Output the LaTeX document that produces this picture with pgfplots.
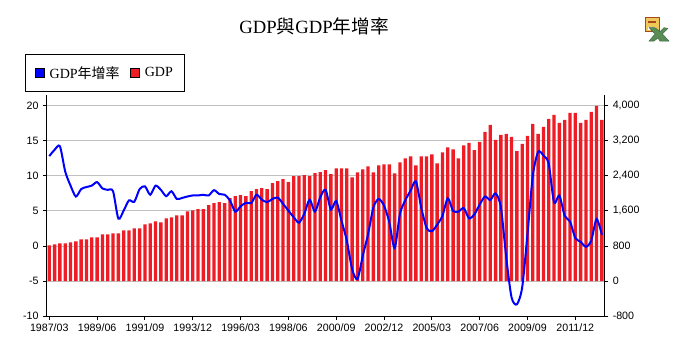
\documentclass[border=0pt]{standalone}
\usepackage{pgfplots}
\usepackage{pgfplotstable}
\usepackage{fontspec}
\pgfplotsset{compat=1.18}
\setmainfont{Liberation Serif}
\newfontfamily\labelsans{Liberation Sans}
\newfontfamily\cjk{Noto Sans CJK TC}
\definecolor{barred}{RGB}{238,28,36}
\definecolor{linblue}{RGB}{0,0,255}
\definecolor{gridgray}{RGB}{192,192,192}
\definecolor{iconbrown}{RGB}{170,70,30}
\definecolor{icongold}{RGB}{240,200,90}
\definecolor{icongreen}{RGB}{90,140,85}
\definecolor{icondark}{RGB}{50,100,60}
\pgfplotstableread{
i gdp rate
0 815 12.8
1 838 13.7
2 861 14.2
3 861 10.6
4 884 8.6
5 907 7.05
6 952 8.1
7 952 8.4
8 998 8.6
9 998 9.1
10 1067 8.2
11 1067 8.0
12 1090 7.8
13 1090 3.9
14 1158 5.05
15 1158 6.5
16 1204 6.3
17 1204 8.1
18 1295 8.5
19 1318 7.3
20 1364 8.6
21 1341 8.0
22 1432 7.1
23 1455 7.8
24 1501 6.7
25 1501 6.85
26 1592 7.05
27 1615 7.2
28 1638 7.2
29 1638 7.3
30 1730 7.2
31 1775 7.95
32 1798 7.4
33 1775 7.3
34 1890 6.5
35 1935 4.9
36 1958 5.65
37 1935 6.15
38 2050 6.1
39 2095 7.3
40 2118 6.6
41 2095 6.25
42 2232 6.7
43 2278 6.9
44 2324 6.0
45 2255 5.05
46 2392 4.1
47 2392 3.33
48 2415 4.6
49 2392 6.6
50 2461 4.9
51 2484 6.95
52 2530 8.0
53 2438 5.2
54 2568 6.4
55 2568 3.6
56 2568 0.75
57 2362 -3.3
58 2476 -4.7
59 2545 -1.4
60 2613 1.7
61 2476 5.5
62 2636 6.7
63 2659 5.75
64 2659 3.4
65 2453 -0.3
66 2705 4.6
67 2796 6.5
68 2842 7.9
69 2636 9.2
70 2842 5.5
71 2842 2.6
72 2888 2.1
73 2682 3.05
74 2933 4.3
75 3048 6.8
76 3002 5.0
77 2796 4.9
78 3093 5.4
79 3147 3.95
80 2987 4.5
81 3170 5.9
82 3398 7.05
83 3558 6.55
84 3215 7.5
85 3330 5.5
86 3352 -1.6
87 3284 -7.3
88 2964 -8.3
89 3124 -5.9
90 3307 1.7
91 3581 10.0
92 3352 13.4
93 3512 12.9
94 3695 11.7
95 3787 6.2
96 3604 7.2
97 3672 4.3
98 3832 3.5
99 3832 1.15
100 3604 0.6
101 3672 -0.1
102 3855 0.75
103 3992 3.85
104 3672 1.6
}\data
\pgfplotsset{common/.style={
  scale only axis, width=417.98pt, height=165.98pt,
  at={(35.25pt,29.775pt)}, anchor=south west,
  xmin=-0.43, xmax=104.46,
  tick align=outside, major tick length=2.8pt,
  tick style={black,line width=0.75pt},
  axis line style={black,line width=0.75pt},
  tick label style={font=\labelsans\fontsize{8}{9.6}\selectfont},
  /pgf/number format/assume math mode=true,
  /pgf/number format/1000 sep={,},
  clip=false,
}}
\begin{document}
\begin{tikzpicture}
\path[use as bounding box] (0,0) rectangle (511.5pt,267pt);
\begin{axis}[common,
  axis y line*=right, axis x line=none,
  ymin=-800, ymax=4240,
  ytick={-800,0,800,1600,2400,3200,4000},
  ymajorgrids, grid style={gridgray,line width=0.75pt},
]
\addplot[ybar,bar width=2.5pt,bar shift=0pt,fill=barred,draw=none] table[x=i,y=gdp] {\data};
\end{axis}
\begin{axis}[common,
  axis y line*=left, axis x line*=bottom,
  ymin=-10, ymax=21.5,
  ytick={-10,-5,0,5,10,15,20},
  xtick={0,9,18,27,36,45,54,63,72,81,90,99},
  xticklabels={1987/03,1989/06,1991/09,1993/12,1996/03,1998/06,2000/09,2002/12,2005/03,2007/06,2009/09,2011/12},
  xticklabel style={yshift=0.6pt},
  legend columns=2,
  legend style={at={(axis description cs:-0.0386,1.0136)},anchor=south west,
    draw=black,line width=0.75pt,fill=white,
    inner xsep=6.5pt,inner ysep=6.5pt,
    font=\fontsize{10.5}{12}\selectfont,
    /tikz/every even column/.append style={column sep=5.5pt}},
  legend cell align=left,
]
\addplot[color=linblue,line width=1.5pt,smooth,tension=0.45,
  legend image code/.code={\path[draw=none,fill=none] (0pt,0pt) rectangle (9pt,0.1pt);\draw[black,line width=0.6pt,fill=linblue] (0pt,-3.4pt) rectangle (7pt,3.4pt);}]
  table[x=i,y=rate] {\data};
\addlegendimage{legend image code/.code={\path[draw=none,fill=none] (0pt,0pt) rectangle (9pt,0.1pt);\draw[black,line width=0.6pt,fill=barred] (0pt,-3.4pt) rectangle (7pt,3.4pt);}}
\legend{GDP{\cjk 年增率},GDP}
\end{axis}
\node[font=\fontsize{14}{16}\selectfont] at (235.5pt,247.5pt) {GDP{\cjk 與}GDP{\cjk 年增率}};
% Excel download icon
\begin{scope}[shift={(483.75pt,236pt)}]
\fill[icongold,draw=iconbrown,line width=0.6pt] (0,7.75pt) rectangle (10.5pt,18pt);
\fill[white] (2.5pt,8.2pt) rectangle (8pt,11pt);
\fill[iconbrown] (2.5pt,13.5pt) rectangle (8pt,15pt);
\fill[icongreen,draw=icondark,line width=0.3pt]
  (3pt,10.3pt) -- (7.5pt,10.3pt) -- (11.2pt,7.3pt) -- (14.2pt,10.3pt) -- (17.2pt,9.6pt) -- (13.1pt,5.5pt) -- (18pt,0.2pt) -- (11.2pt,0.2pt) -- (9.7pt,2.5pt) -- (6.8pt,0.2pt) -- (3pt,0.2pt) -- (7.5pt,5.5pt) -- cycle;
\end{scope}
\end{tikzpicture}
\end{document}
